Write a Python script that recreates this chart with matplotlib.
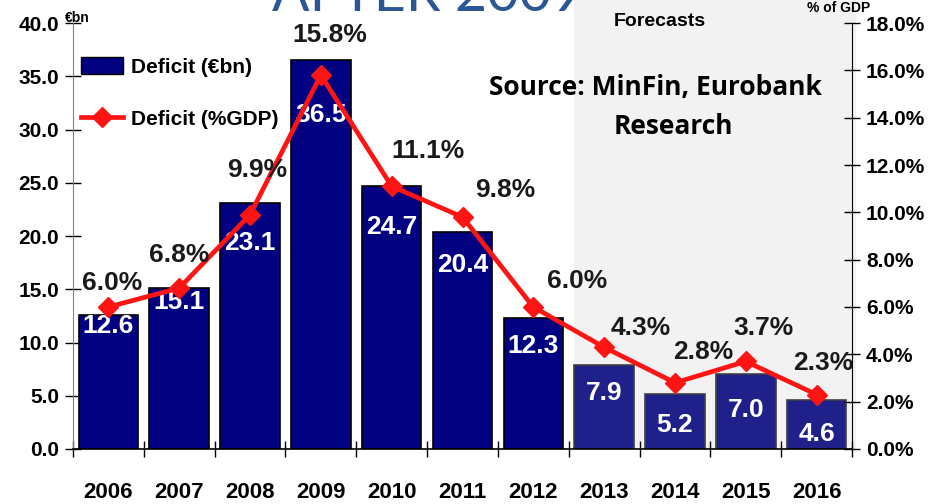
import matplotlib
matplotlib.use('Agg')
from matplotlib import pyplot as plt
from matplotlib.patches import Patch, Rectangle
from matplotlib.lines import Line2D
import matplotlib.transforms as mtransforms
import numpy as np

# Chart data
years=['2006','2007','2008','2009','2010','2011','2012','2013','2014','2015','2016']
deficit_bn=[12.6,15.1,23.1,36.5,24.7,20.4,12.3,7.9,5.2,7.0,4.6]
deficit_gdp=[6.0,6.8,9.9,15.8,11.1,9.8,6.0,4.3,2.8,3.7,2.3]
first_forecast=7   # index of 2013

# Hand placed label spots
bn_label_y=[11.55,13.8,19.3,31.4,20.85,17.3,9.7,5.3,2.25,3.7,1.4]
gdp_label_x=[0.05,1.0,2.1,3.13,4.51,5.6,6.62,7.51,8.4,9.25,10.09]
gdp_label_y=[7.0,8.2,11.8,17.5,12.6,10.95,7.1,5.1,4.1,5.1,3.65]

bold='Liberation Sans'
navy='#000080'
navy2='#20208a'
red='#ff1414'

fig=plt.figure(figsize=(9.34,5.04),dpi=100)
ax=fig.add_axes([73/934,55/504,779/934,426/504])
ax2=ax.twinx()

x=np.arange(len(years))
w=0.84

# Forecast shading, runs up to the top of the figure
x0=first_forecast-w/2
trans=mtransforms.blended_transform_factory(ax.transData,ax.transAxes)
ax.add_patch(Rectangle((x0,0),10.5-x0+0.05,1.06,transform=trans,
                       facecolor='#f2f2f2',edgecolor='none',clip_on=False,zorder=0))

colors=[navy if i<first_forecast else navy2 for i in range(len(years))]
edges=['black' if i<first_forecast else '#404040' for i in range(len(years))]
ax.bar(x,deficit_bn,width=w,color=colors,edgecolor=edges,linewidth=1.2,zorder=2)

for i,v in enumerate(deficit_bn):
    ax.text(x[i],bn_label_y[i],'%.1f'%v,color='white',ha='center',va='center',
            fontsize=19,fontweight='bold',family=bold,zorder=5)

ax2.plot(x,deficit_gdp,color=red,lw=3.4,marker='D',markersize=10,zorder=4)
for i,v in enumerate(deficit_gdp):
    ax2.text(gdp_label_x[i],gdp_label_y[i],'%.1f%%'%v,color='#1a1a1a',ha='center',va='center',
             fontsize=19,fontweight='bold',family=bold,zorder=6)

ax.set_zorder(1)
ax2.set_zorder(2)
ax.patch.set_visible(False)
ax2.patch.set_visible(False)

ax.set_xlim(-0.5,10.5)
ax.set_ylim(0,40)
ax2.set_ylim(0,18)

ax.set_yticks(np.arange(0,41,5))
ax.set_yticklabels(['%.1f'%t for t in np.arange(0,41,5)])
ax2.set_yticks(np.arange(0,19,2))
ax2.set_yticklabels(['%.1f%%'%t for t in np.arange(0,19,2)])

ax.set_xticks(x)
ax.set_xticklabels(years)
ax.set_xticks(np.arange(-0.5,11,1),minor=True)
ax.tick_params(axis='x',which='major',length=0,pad=24)
ax.tick_params(axis='x',which='minor',direction='inout',length=12,width=1)
ax.tick_params(axis='y',direction='inout',length=12,width=1,pad=4)
ax2.tick_params(axis='y',direction='inout',length=12,width=1,pad=4)

for lab in ax.get_yticklabels()+ax2.get_yticklabels():
    lab.set_fontsize(15)
    lab.set_fontweight('bold')
    lab.set_family(bold)
for lab in ax.get_xticklabels():
    lab.set_fontsize(16)
    lab.set_fontweight('bold')
    lab.set_family(bold)

for a in [ax,ax2]:
    a.spines['top'].set_visible(False)
ax.spines['left'].set_color('#808080')
ax2.spines['left'].set_visible(False)
ax.spines['right'].set_visible(False)
ax2.spines['bottom'].set_visible(False)
ax.spines['bottom'].set_linewidth(1.2)

handles=[Patch(facecolor=navy,edgecolor='black'),
         Line2D([],[],color=red,lw=3.4,marker='D',markersize=10)]
leg=ax.legend(handles,['Deficit (€bn)','Deficit (%GDP)'],loc='upper left',
              bbox_to_anchor=(0.0,0.94),borderaxespad=0,frameon=False,handlelength=2.0,
              handleheight=0.9,handletextpad=0.4,labelspacing=1.55,
              prop={'family':bold,'weight':'bold','size':15})
leg.set_zorder(7)

# Annotations
fig.text(77/934,1-18/504,'€bn',ha='center',va='center',fontsize=10,fontweight='bold',family=bold)
fig.text(839/934,1-8/504,'% of GDP',ha='center',va='center',fontsize=10,fontweight='bold',family=bold)
fig.text(660/934,1-21/504,'Forecasts',ha='center',va='center',fontsize=14,fontweight='bold',family=bold)
fig.text(655/934,1-88/504,'Source: MinFin, Eurobank',ha='center',va='center',fontsize=19,
         fontweight='bold',family='Open Sans')
fig.text(673/934,1-126/504,'Research',ha='center',va='center',fontsize=19,
         fontweight='bold',family='Open Sans')
# title of the slide, cut at the top edge
fig.text(428/934,1-11/504,'AFTER 2009',ha='center',va='baseline',fontsize=40,
         color='#2b5797',family='Lato')

fig.savefig('out.png',dpi=100)
